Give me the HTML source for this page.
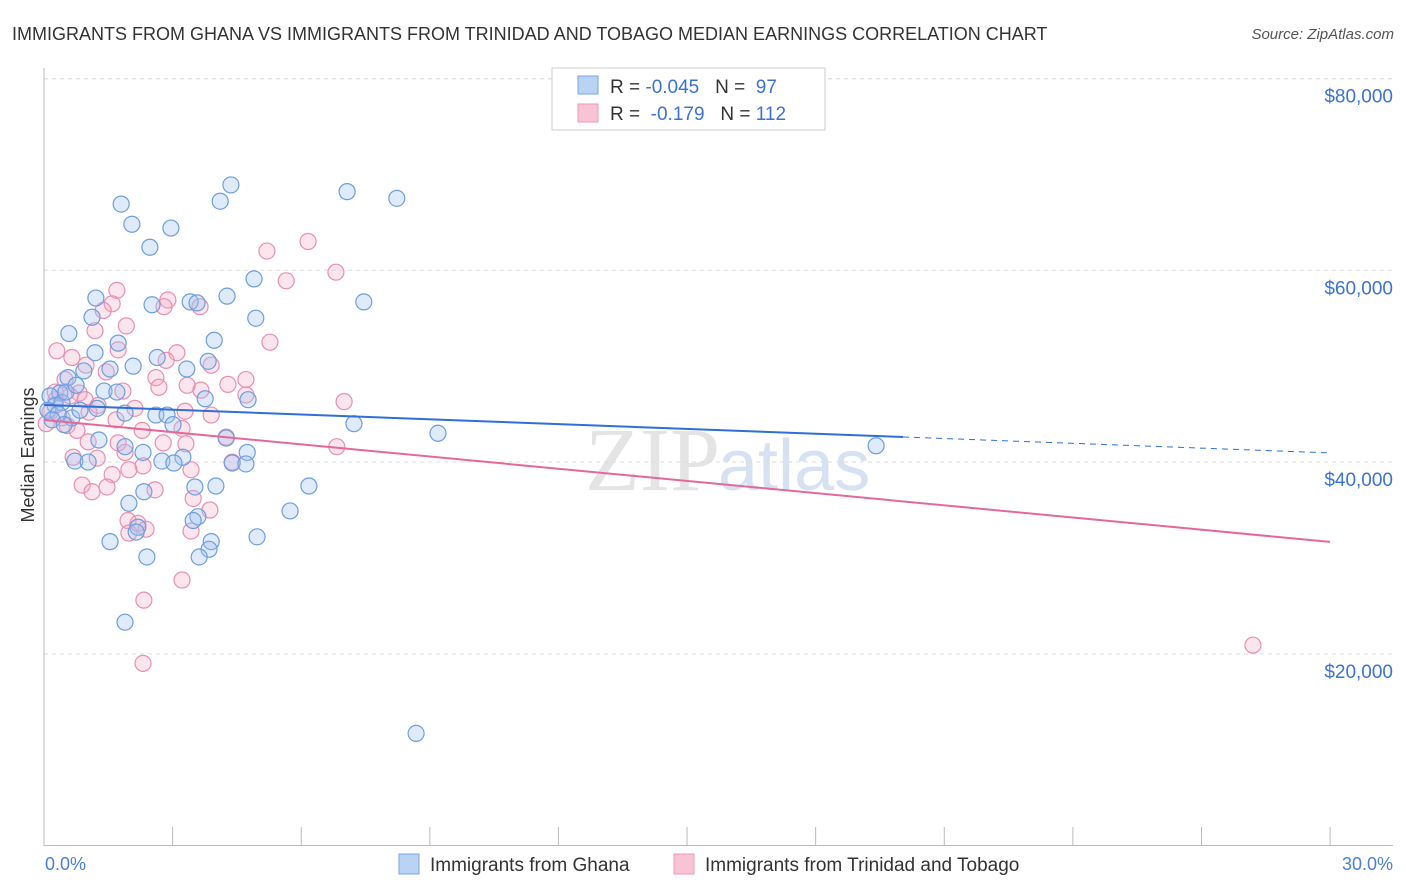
<!DOCTYPE html>
<html><head><meta charset="utf-8"><style>
body{margin:0;background:#fff;font-family:"Liberation Sans",sans-serif;}
svg{display:block}
</style></head><body>
<svg id="chart" width="1406" height="892" xmlns="http://www.w3.org/2000/svg">
<text x="12" y="40" font-size="18" fill="#333">IMMIGRANTS FROM GHANA VS IMMIGRANTS FROM TRINIDAD AND TOBAGO MEDIAN EARNINGS CORRELATION CHART</text>
<text x="1394" y="39" font-size="15" fill="#555" font-style="italic" text-anchor="end">Source: ZipAtlas.com</text>
<text x="720" y="490" font-size="90" fill="#e4e4e4" text-anchor="end" font-family="Liberation Serif,serif">ZIP</text>
<text x="718" y="490" font-size="72" fill="#d6e2f2">atlas</text>
<g id="grid"></g>
<g id="axes"></g>
<g id="pts"></g>
<g id="lines"></g>
<text x="34" y="455" font-size="18" fill="#333" text-anchor="middle" transform="rotate(-90 34 455)">Median Earnings</text>
<text x="45" y="870" font-size="18" fill="#4a7fd4">0.0%</text>
<text x="1393" y="870" font-size="18" fill="#4a7fd4" text-anchor="end">30.0%</text>
<g>
<rect x="552" y="68" width="273" height="62" fill="#fff" stroke="#ccc"/>
<rect x="578" y="76" width="20" height="18" fill="#b9d3f5" stroke="#7aa6e4"/>
<rect x="578" y="104" width="20" height="18" fill="#f8c4d5" stroke="#eb9ab6"/>
<text x="610" y="93" font-size="19" fill="#333">R = <tspan fill="#3b72d4">-0.045</tspan>&#160;&#160;&#160;N = <tspan fill="#3b72d4">&#160;97</tspan></text>
<text x="610" y="120" font-size="19" fill="#333">R = &#160;<tspan fill="#3b72d4">-0.179</tspan>&#160;&#160;&#160;N = <tspan fill="#3b72d4">112</tspan></text>
</g>
<g>
<rect x="399" y="854" width="20" height="20" fill="#b9d3f5" stroke="#7aa6e4"/>
<text x="430" y="871" font-size="19" fill="#333">Immigrants from Ghana</text>
<rect x="674" y="854" width="20" height="20" fill="#f8c4d5" stroke="#eb9ab6"/>
<text x="705" y="871" font-size="19" fill="#333">Immigrants from Trinidad and Tobago</text>
</g>
</svg>
<script>
const yTicks=[20000,40000,60000,80000];
const yTickLabels=["$20,000","$40,000","$60,000","$80,000"];
const xTicks=[0,3,6,9,12,15,18,21,24,27,30];
const ghanaX=[4.36,4.11,1.80,7.07,8.23,2.05,2.96,2.47,4.90,4.27,1.21,2.52,3.41,3.57,7.46,4.94,1.12,0.58,3.97,1.73,1.19,2.64,3.83,2.08,3.33,0.93,1.54,0.56,1.40,1.70,0.37,0.14,3.76,4.76,1.24,1.89,2.61,2.87,0.65,7.23,9.19,3.01,4.25,1.28,1.89,2.31,4.74,3.24,0.72,1.03,2.75,3.03,4.39,4.71,19.41,6.18,4.01,3.52,2.33,1.98,5.74,3.59,3.48,2.19,2.15,4.97,1.54,3.90,3.85,2.40,3.62,1.89,8.68,0.26,0.09,0.42,0.33,0.51,0.75,0.19,0.84,0.47];
const ghanaY=[68.9,67.2,66.9,68.2,67.5,64.8,64.4,62.4,59.1,57.3,57.1,56.4,56.7,56.6,56.7,55.0,55.1,53.4,52.7,52.4,51.4,50.9,50.5,50.0,49.7,49.5,49.7,48.8,47.4,47.3,47.2,46.9,46.6,46.5,45.6,45.1,44.9,44.9,44.6,44.0,43.0,43.9,42.5,42.3,41.6,41.0,41.0,40.5,40.1,40.0,40.1,39.9,39.9,39.8,41.7,37.5,37.5,37.4,36.9,35.7,34.9,34.3,33.9,33.2,32.7,32.2,31.7,31.7,30.9,30.1,30.1,23.3,11.7,45.9,45.4,46.2,45.0,47.3,48.0,44.4,45.4,43.9];
const trinX=[6.16,5.20,6.81,5.65,1.70,2.89,1.59,2.80,3.64,1.38,1.92,1.19,5.27,0.30,1.73,3.10,0.65,2.85,3.90,0.98,1.45,2.61,4.71,3.34,4.29,2.68,1.84,0.82,3.66,4.71,7.00,1.26,2.12,3.29,1.05,3.90,1.68,0.54,3.22,2.29,4.25,1.03,1.73,2.78,3.31,6.83,1.89,0.68,1.24,4.39,2.31,1.98,3.43,1.59,0.89,1.47,2.59,1.12,3.48,3.87,1.96,2.19,2.38,3.43,1.98,3.22,2.33,2.31,28.20,0.14,0.28,0.42,0.61,0.05,0.77,0.26,0.49,0.96];
const trinY=[63.0,62.0,59.8,58.9,57.9,56.9,56.5,56.2,56.2,55.8,54.2,53.7,52.5,51.6,51.7,51.4,50.9,50.6,50.1,50.1,49.4,48.8,48.6,48.0,48.1,47.8,47.4,47.2,47.5,47.0,46.3,45.9,45.6,45.3,45.2,44.9,44.4,43.8,43.5,43.3,42.6,42.1,42.0,42.0,41.9,41.6,41.0,40.5,40.4,40.0,39.6,39.2,39.2,38.7,37.6,37.4,37.1,36.9,36.2,35.0,33.9,33.6,33.0,32.8,32.6,27.7,25.6,19.0,20.9,45.2,46.5,44.6,46.9,44.0,43.3,47.3,48.6,46.5];
const ghanaTrend=[45.96,40.95], ghanaSolidEnd=20.04;
const trinTrend=[44.39,31.67];

const NS="http://www.w3.org/2000/svg";
const X=v=>44+v*42.87;
const Y=v=>845.6-v*0.009589;
function mk(tag,attrs,parent){const e=document.createElementNS(NS,tag);for(const k in attrs)e.setAttribute(k,attrs[k]);parent.appendChild(e);return e;}
const grid=document.getElementById('grid'),axes=document.getElementById('axes'),pts=document.getElementById('pts'),lines=document.getElementById('lines');
yTicks.forEach((t,i)=>{
  const l=mk('line',{x1:44,x2:1393,y1:Y(t),y2:Y(t),stroke:'#ddd','stroke-dasharray':'4,4'},grid);
  
  
  const tx=mk('text',{x:1393,y:Y(t)+24,'font-size':19,fill:'#3b72d4','text-anchor':'end'},grid);
  tx.textContent=yTickLabels[i];
  
  
});
const topLine=mk('line',{x1:44,x2:1393,y1:79,y2:79,stroke:'#e4e4e4','stroke-dasharray':'4,4'},grid);


const ya=mk('line',{x1:44,x2:44,y1:68,y2:846,stroke:'#bbb'},axes);


const xa=mk('line',{x1:44,x2:1393,y1:845.5,y2:845.5,stroke:'#bbb'},axes);


xTicks.forEach(t=>{
  const l=mk('line',{x1:X(t),x2:X(t),y1:827,y2:846,stroke:'#bbb'},axes);
  
  
});
function dots(xs,ys,fill,stroke,name){
  xs.forEach((x,i)=>{
    const c=mk('circle',{cx:X(x),cy:Y(ys[i]*1000),r:8,fill:fill,stroke:stroke,'stroke-width':1.2},pts);
    
    
  });
}
dots(trinX,trinY,'rgba(244,170,195,0.3)','#e98fb0','trinidad-point');
dots(ghanaX,ghanaY,'rgba(164,196,240,0.35)','#6d9de0','ghana-point');
const gAt=x=>ghanaTrend[0]+(ghanaTrend[1]-ghanaTrend[0])*x/30;
const gl=mk('line',{x1:X(0),y1:Y(gAt(0)*1000),x2:X(ghanaSolidEnd),y2:Y(gAt(ghanaSolidEnd)*1000),stroke:'#2f6fd6','stroke-width':2},lines);


const gd=mk('line',{x1:X(ghanaSolidEnd),y1:Y(gAt(ghanaSolidEnd)*1000),x2:X(30),y2:Y(gAt(30)*1000),stroke:'#2f6fd6','stroke-width':1,'stroke-dasharray':'6,5'},lines);


const tl=mk('line',{x1:X(0),y1:Y(trinTrend[0]*1000),x2:X(30),y2:Y(trinTrend[1]*1000),stroke:'#e5689a','stroke-width':2},lines);


</script>
</body></html>
